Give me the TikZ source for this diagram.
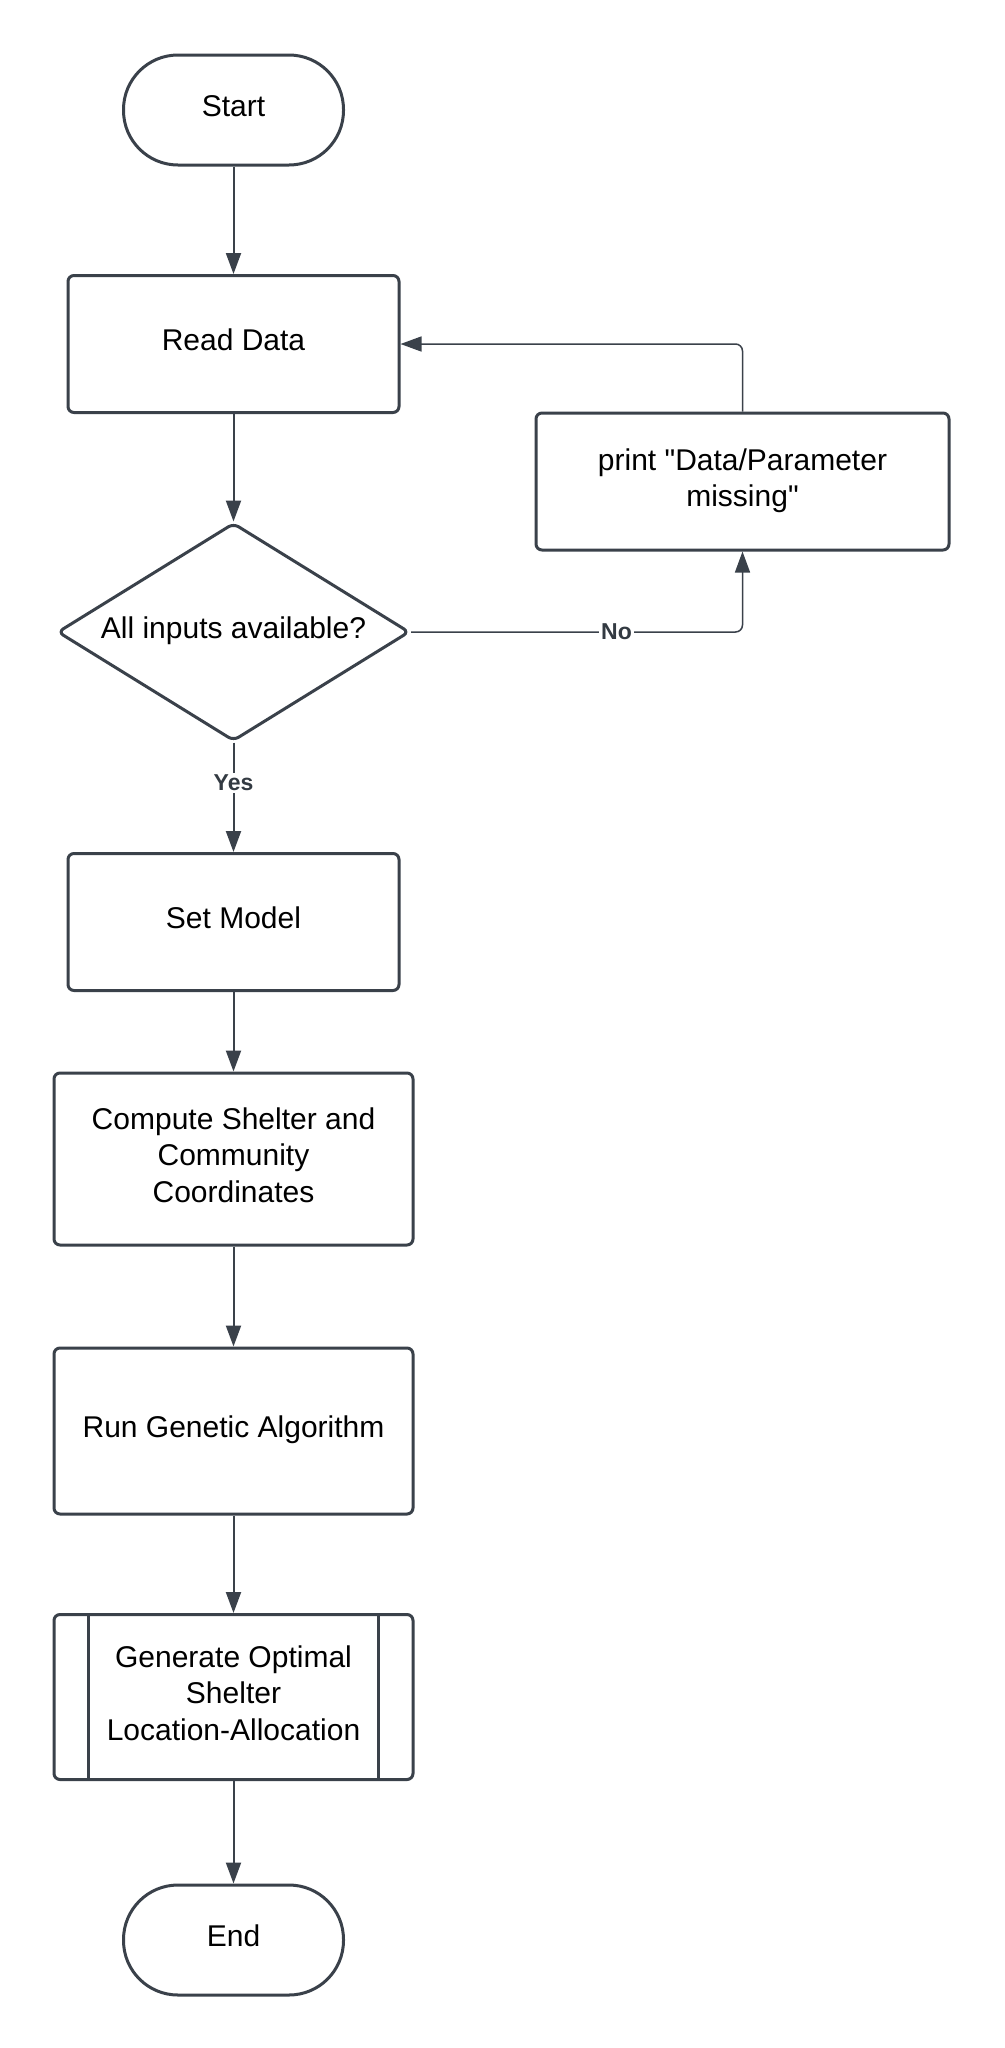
\documentclass[tikz,border=0pt]{standalone}
\usepackage{fontspec}
\setmainfont{Liberation Sans}[Ligatures=TeXOff]
\usetikzlibrary{arrows.meta,shapes.geometric}
\definecolor{ln}{HTML}{3A414A}
\definecolor{lbltext}{HTML}{333A42}
\begin{document}
\begin{tikzpicture}[x=1pt,y=-1pt,
  box/.style={draw=ln, line width=3pt, rounded corners=6pt, align=center,
    font=\fontsize{30}{36.6}\selectfont, inner sep=0pt, text depth=8pt},
  term/.style={box, rounded corners=54.5pt, minimum width=220pt, minimum height=110pt},
  tip/.style={-{Triangle[width=15pt,length=21pt]}},
  conn/.style={draw=ln, line width=2pt, tip},
  thinconn/.style={draw=ln, line width=1.5pt, rounded corners=7pt, tip},
  lbl/.style={fill=white, text=lbltext, font=\fontsize{23}{28}\selectfont\bfseries, inner sep=2pt}
]
\useasboundingbox (0,0) rectangle (1004,2048);
\fill[white] (0,0) rectangle (1004,2048);

\node[term] (start) at (233.5,110) {Start};
\node[box, minimum width=331pt, minimum height=137pt] (read) at (233.5,344) {Read Data};
\node[diamond, draw=ln, line width=3pt, rounded corners=6pt, minimum width=352pt, minimum height=218pt, inner sep=0pt] (dec) at (233.5,632) {};
\node[font=\fontsize{30}{36.6}\selectfont, inner sep=0pt, text depth=8pt] (dectext) at (dec.center) {All inputs available?};
\node[box, minimum width=413pt, minimum height=137pt] (print) at (742.5,481.5) {print "Data/Parameter\\missing"};
\node[box, minimum width=331pt, minimum height=137pt] (setm) at (233.5,922) {Set Model};
\node[box, minimum width=359pt, minimum height=172pt] (comp) at (233.5,1159) {Compute Shelter and\\Community\\Coordinates};
\node[box, minimum width=359pt, minimum height=166pt] (rga) at (233.5,1431) {Run Genetic Algorithm};
\node[box, minimum width=359pt, minimum height=165pt] (gen) at (233.5,1697) {Generate Optimal\\Shelter\\Location-Allocation};
\draw[ln, line width=3pt] ([xshift=36pt]gen.north west) -- ([xshift=36pt]gen.south west);
\draw[ln, line width=3pt] ([xshift=-36pt]gen.north east) -- ([xshift=-36pt]gen.south east);
\node[term] (endn) at (233.5,1940) {End};

\draw[conn] (start) -- (read);
\draw[conn] (read) -- (dec.north);
\draw[conn] (dec.south) -- node[lbl, pos=0.37] {Yes} (setm.north);
\draw[conn] (setm) -- (comp);
\draw[conn] (comp) -- (rga);
\draw[conn] (rga) -- (gen);
\draw[conn] (gen) -- (endn);
\draw[thinconn] (dec.east) -| node[lbl, pos=0.31] {No} (print.south);
\draw[thinconn] (print.north) |- (read.east);
\end{tikzpicture}
\end{document}
